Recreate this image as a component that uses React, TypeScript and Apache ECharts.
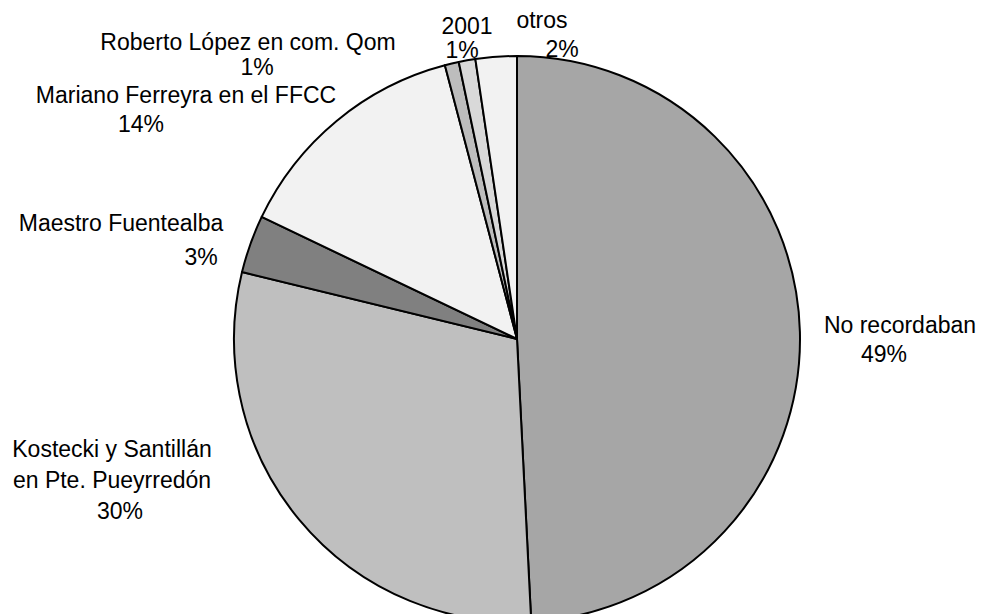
import React, { useEffect, useRef } from "react";
import * as echarts from "echarts";

// Data (clockwise from 12 o'clock)
const categories = [
  "No recordaban",
  "Kostecki y Santillán\nen Pte. Pueyrredón",
  "Maestro Fuentealba",
  "Mariano Ferreyra en el FFCC",
  "Roberto López en com. Qom",
  "2001",
  "otros",
];
const shares = [49.2, 29.6, 3.3, 13.8, 0.8, 0.95, 2.35];
const sliceColors = ["#a6a6a6", "#bfbfbf", "#808080", "#f2f2f2", "#bdbdbd", "#d9d9d9", "#f2f2f2"];

// Label placement: centre x, centre y of first line, line height, x-shift of the % line
const labelSpots = [
  { x: 900, first: 325, lh: 29, shift: -16 },
  { x: 112, first: 449, lh: 31, shift: 8 },
  { x: 121, first: 223, lh: 34, shift: 80 },
  { x: 186, first: 95, lh: 29, shift: -45 },
  { x: 248, first: 42, lh: 25, shift: 9 },
  { x: 467, first: 26, lh: 24, shift: -5 },
  { x: 542, first: 20, lh: 29, shift: 20 },
];

const FONT = "'Liberation Sans', Arial, sans-serif";

export default function App() {
  const ref = useRef<HTMLDivElement>(null);
  useEffect(() => {
    if (!ref.current) return;
    const chart = echarts.init(ref.current, null, { renderer: "svg" });
    const data = categories.map((name, i) => {
      const s = labelSpots[i];
      const pad = s.shift >= 0 ? [0, 0, 0, 2 * s.shift] : [0, -2 * s.shift, 0, 0];
      return {
        name,
        value: shares[i],
        itemStyle: { color: sliceColors[i] },
        label: {
          rich: {
            n: { fontSize: 23, lineHeight: s.lh, color: "#000", fontFamily: FONT },
            p: { fontSize: 23, lineHeight: s.lh, color: "#000", fontFamily: FONT, padding: pad },
          },
        },
      };
    });
    chart.setOption({
      animation: false,
      backgroundColor: "#ffffff",
      series: [
        {
          type: "pie",
          center: [517, 339],
          radius: 283,
          startAngle: 90,
          clockwise: true,
          avoidLabelOverlap: false,
          itemStyle: { borderColor: "#000", borderWidth: 2 },
          emphasis: { disabled: true },
          label: {
            show: true,
            position: "outside",
            fontFamily: FONT,
            fontSize: 23,
            color: "#000",
            formatter: (p: any) => `{n|${p.name}}\n{p|${Math.round(p.percent)}%}`,
          },
          labelLine: { show: false },
          labelLayout: (params: any) => {
            const s = labelSpots[params.dataIndex];
            return {
              x: s.x,
              y: s.first - s.lh / 2,
              align: "center",
              verticalAlign: "top",
              hideOverlap: false,
            };
          },
          data,
        },
      ],
    });
    return () => chart.dispose();
  }, []);
  return (
    <div
      ref={ref}
      style={{ position: "fixed", left: 0, top: 0, width: 981, height: 614, background: "#fff" }}
    />
  );
}
